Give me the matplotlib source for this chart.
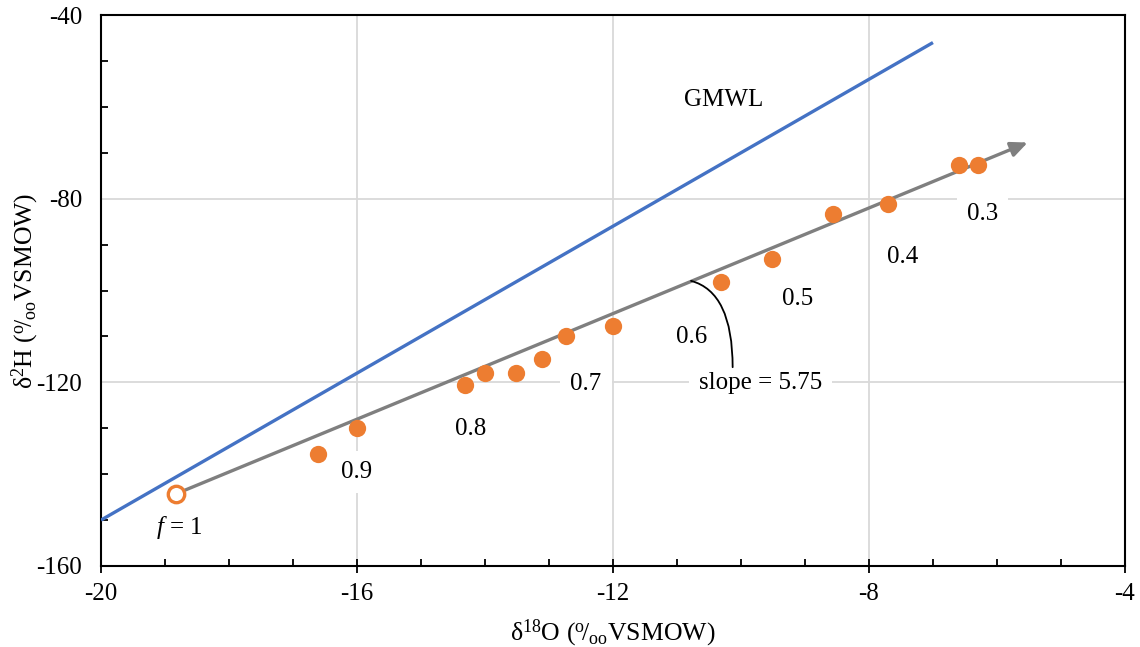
import numpy as np
import matplotlib.pyplot as plt
from matplotlib.ticker import MultipleLocator

plt.rcParams['font.family'] = ['Liberation Serif', 'DejaVu Serif']
plt.rcParams['mathtext.fontset'] = 'custom'
plt.rcParams['mathtext.rm'] = 'Liberation Serif'
plt.rcParams['mathtext.it'] = 'Liberation Serif:italic'
plt.rcParams['axes.unicode_minus'] = False

# residual water samples (delta 18O, delta 2H)
d18o = [-16.61, -16.00, -14.31, -14.00, -13.52, -13.11, -12.73, -12.00,
        -10.31, -9.52, -8.56, -7.70, -6.59, -6.30]
d2h = [-135.6, -129.9, -120.6, -118.0, -118.0, -114.9, -109.9, -107.7,
       -98.1, -93.1, -83.3, -81.2, -72.7, -72.7]

# initial water f = 1
d18o_0 = -18.83
d2h_0 = -144.3

# evaporation trend
slope = 5.75
trend_end_x = -5.52

# global meteoric water line d2H = 8 d18O + 10
gmwl_x = [-20, -7]
gmwl_slope = 8
gmwl_icpt = 10

# residual fraction labels
f_labels = ['0.9', '0.8', '0.7', '0.6', '0.5', '0.4', '0.3']
f_lab_x = [-16.0, -14.22, -12.42, -10.77, -9.11, -7.48, -6.23]
f_lab_y = [-139.5, -130.2, -120.4, -110.1, -101.8, -92.7, -83.3]

orange = '#ED7D31'
gray = '#7F7F7F'
blue = '#4472C4'
fs = 18

fig = plt.figure(figsize=(11.4, 6.47), dpi=100)
ax = fig.add_axes([0.0886, 0.1252, 0.8982, 0.8516])

ax.set_xlim(-20, -4)
ax.set_ylim(-160, -40)

ax.grid(True, which='major', color='#D9D9D9', lw=1.3, zorder=0)
ax.set_axisbelow(True)

gx = np.array(gmwl_x)
ax.plot(gx, gmwl_slope * gx + gmwl_icpt, color=blue, lw=2.4, zorder=3,
        solid_capstyle='butt')

trend_end_y = d2h_0 + slope * (trend_end_x - d18o_0)
ax.annotate('', xy=(trend_end_x, trend_end_y), xytext=(d18o_0, d2h_0),
            arrowprops=dict(arrowstyle='-|>,head_length=1.0,head_width=0.45',
                            color=gray, lw=2.4, shrinkA=0, shrinkB=0),
            zorder=3)

ax.scatter(d18o, d2h, s=155, color=orange, zorder=4, linewidths=0)
ax.scatter([d18o_0], [d2h_0], s=140, facecolor='white', edgecolor=orange,
           linewidths=2.4, zorder=5)

box = dict(boxstyle='square,pad=0.4', fc='white', ec='none')
for t, x, y in zip(f_labels, f_lab_x, f_lab_y):
    ax.text(x, y, t, fontsize=fs, ha='center', va='center', bbox=box, zorder=2)

ax.text(-18.77, -151.7, r'$f$ = 1', fontsize=fs, ha='center', va='center', zorder=2)
ax.text(-10.27, -58.5, 'GMWL', fontsize=fs, ha='center', va='center', zorder=2)

ax.text(-9.70, -120.1, 'slope = 5.75', fontsize=fs, ha='center', va='center',
        bbox=box, zorder=2)
ax.annotate('', xy=(-10.78, -97.9), xytext=(-10.13, -116.7),
            arrowprops=dict(arrowstyle='-', color='black', lw=1.3,
                            shrinkA=0, shrinkB=0,
                            connectionstyle='angle3,angleA=90,angleB=-15'),
            zorder=3)

ax.xaxis.set_major_locator(MultipleLocator(4))
ax.xaxis.set_minor_locator(MultipleLocator(1))
ax.yaxis.set_major_locator(MultipleLocator(40))
ax.yaxis.set_minor_locator(MultipleLocator(10))
ax.tick_params(axis='x', which='major', direction='inout', length=10, width=1.3,
               labelsize=fs, pad=7)
ax.tick_params(axis='x', which='minor', direction='in', length=5, width=1.3)
ax.tick_params(axis='y', which='major', direction='in', length=0, labelsize=fs, pad=13.5)
ax.tick_params(axis='y', which='minor', direction='in', length=5, width=1.3)
for s in ax.spines.values():
    s.set_linewidth(1.5)

ax.set_xlabel('δ$^{18}$O ($^{\\rm o}\\!/_{\\rm oo}$VSMOW)', fontsize=18.5, labelpad=9)
ax.set_ylabel('δ$^{2}$H ($^{\\rm o}\\!/_{\\rm oo}$VSMOW)', fontsize=18.5, labelpad=-3)

fig.savefig('out.png', dpi=100)
